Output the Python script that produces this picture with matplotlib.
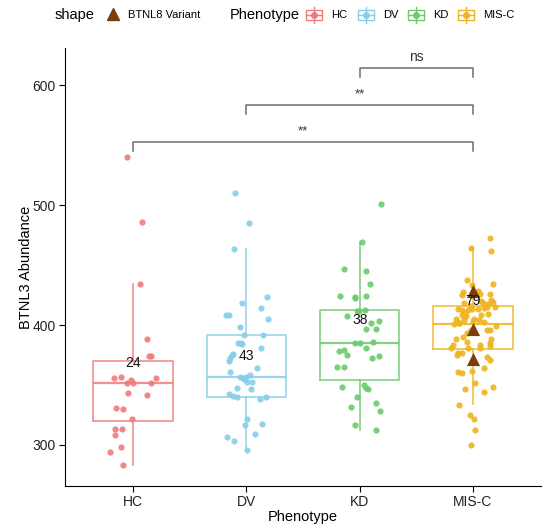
import matplotlib
matplotlib.use('Agg')
import matplotlib.pyplot as plt
from matplotlib.patches import Rectangle
from matplotlib.lines import Line2D

phenotypes = ['HC', 'DV', 'KD', 'MIS-C']
colors = ['#F07B7B', '#87CEEB', '#6CCB6C', '#EFB31F']

hc_vals = [540, 486, 434, 388, 374, 374.5, 356, 356.5, 354, 351.5, 355.5, 352,
           343, 341.5, 331, 330, 321.7, 313.3, 313, 308, 294, 298, 283, 352]
hc_jit = [-0.05, 0.08, 0.06, 0.12, 0.14, 0.16, -0.17, -0.11, -0.02, -0.05, 0.20, 0.16,
          -0.04, 0.12, -0.15, -0.09, -0.01, -0.16, -0.10, -0.16, -0.20, -0.11, -0.09, 0.0]

dv_vals = [510.5, 484.7, 463.3, 423.3, 418.3, 413.9, 408.6, 408.6, 404.7, 398.3,
           391.9, 391.7, 385, 385.3, 381.1, 375.6, 374.7, 372.8, 370.3, 364.2,
           361.1, 356.7, 355.6, 357, 352.5, 352.5, 347, 347.2, 342.2, 340.8,
           340.3, 338.1, 340, 321.4, 316.7, 317.5, 309.2, 306.9, 303.6, 295.6,
           358, 355, 384]
dv_jit = [-0.10, 0.02, -0.11, 0.18, -0.04, 0.13, -0.18, -0.15, 0.19, -0.06,
          -0.02, 0.15, -0.07, -0.05, 0.13, -0.12, -0.13, -0.14, -0.15, 0.09,
          -0.14, -0.06, -0.03, 0.0, 0.01, 0.05, 0.04, -0.08, -0.15, -0.12,
          -0.08, 0.12, 0.17, 0.01, -0.01, 0.14, 0.08, -0.17, -0.11, 0.01,
          0.03, -0.02, -0.04]

kd_vals = [500.6, 469.2, 446.9, 445.3, 434.2, 424.2, 423.1, 422.2, 424.2, 411.7,
           412.5, 407.8, 402, 403.1, 396.7, 396.4, 385, 385.8, 380.8, 378.3,
           379.2, 375, 374.4, 372.2, 365, 365, 348.3, 350.3, 346.4, 347.5,
           340.3, 334.7, 331.7, 328, 316.9, 312.5, 385, 412]
kd_jit = [0.19, 0.02, -0.14, 0.06, 0.09, -0.17, -0.04, -0.04, 0.06, -0.01,
          0.05, -0.11, 0.10, 0.17, 0.06, 0.14, -0.04, 0.12, 0.06, -0.18,
          -0.14, -0.11, 0.17, 0.11, -0.20, -0.14, -0.16, 0.04, 0.07, 0.06,
          -0.02, 0.14, -0.08, 0.18, -0.04, 0.14, 0.0, -0.02]

misc_vals = [472.8, 464.2, 461.9, 437.5, 433.9, 433.3, 427.2, 425, 428.3, 425.8,
             425.8, 420.8, 419.4, 418.6, 417.2, 415.3, 414.7, 418, 413, 412.5,
             412.5, 413, 413, 413.9, 408.3, 407.5, 408.3, 408.9, 404.2, 404.7,
             400.8, 401.4, 402.8, 404.2, 395.8, 395.8, 399.2, 393.6, 388.6, 388.3,
             384.7, 386.1, 383.1, 380.8, 383.3, 381.1, 382.5, 380.6, 376.4, 377,
             374.7, 373.1, 370.8, 364.2, 362, 360.6, 360.3, 351.4, 348.1, 344.2,
             346.9, 333.3, 325, 321.7, 312, 300,
             410, 402, 396, 416, 405, 390, 420, 403]
misc_jit = [0.15, -0.02, 0.16, -0.05, 0.18, -0.01, -0.09, -0.10, 0.04, 0.06,
            0.15, 0.16, 0.18, 0.09, 0.13, 0.12, 0.19, -0.08, -0.13, -0.10,
            -0.04, -0.01, 0.04, 0.10, -0.10, -0.06, 0.07, 0.13, -0.08, 0.01,
            -0.17, -0.12, 0.10, 0.05, 0.12, 0.15, 0.20, -0.05, -0.15, 0.16,
            0.15, -0.05, -0.18, -0.19, 0.06, 0.06, 0.15, -0.04, -0.13, -0.10,
            -0.14, 0.12, 0.15, 0.10, -0.01, -0.13, -0.10, 0.02, 0.18, 0.10,
            -0.07, -0.12, -0.03, 0.01, 0.02, -0.02,
            -0.07, -0.12, -0.02, -0.03, -0.15, -0.09, 0.07, 0.00]

variant_vals = [428.3, 396.7, 371.4]
variant_jit = [0.0, 0.0, 0.0]

# box stats
box_lo = [283, 295.6, 312.5, 333.9]
box_q1 = [319.5, 340.3, 353.9, 380.3]
box_med = [352, 356.7, 385, 400.8]
box_q3 = [370.3, 391.9, 412.2, 415.6]
box_hi = [434, 463.3, 469.2, 464.2]

n_labels = ['24', '43', '38', '79']
label_y = [368, 374, 404, 420]

comparisons = [(1, 4), (2, 4), (3, 4)]
bracket_y = [552.8, 583.3, 614.4]
sig_labels = ['**', '**', 'ns']

plt.rcParams['font.family'] = ['Liberation Sans', 'DejaVu Sans']

fig = plt.figure(figsize=(5.58, 5.29), dpi=100)
ax = fig.add_axes([0.1165, 0.082, 0.853, 0.827])

stats = []
for i in range(4):
    stats.append({'whislo': box_lo[i], 'q1': box_q1[i], 'med': box_med[i],
                  'q3': box_q3[i], 'whishi': box_hi[i], 'fliers': []})
for i, st in enumerate(stats):
    c = colors[i]
    ax.bxp([st], positions=[i + 1], widths=0.7, showfliers=False, showcaps=False,
           boxprops=dict(color=c, linewidth=1.2, alpha=0.85),
           medianprops=dict(color=c, linewidth=1.6, alpha=0.85),
           whiskerprops=dict(color=c, linewidth=1.2, alpha=0.85))

groups = [(hc_vals, hc_jit), (dv_vals, dv_jit), (kd_vals, kd_jit), (misc_vals, misc_jit)]
for i, (vals, jit) in enumerate(groups):
    xs = [i + 1 + j for j in jit]
    ax.scatter(xs, vals, s=20, color=colors[i], alpha=0.9, linewidths=0, zorder=3)

ax.scatter([4 + j for j in variant_jit], variant_vals, marker='^', s=90,
           color='#7B3F0A', linewidths=0, zorder=4)

for i in range(4):
    ax.text(i + 1, label_y[i], n_labels[i], ha='center', va='center', fontsize=10,
            color='#111111', zorder=5)

for (a, b), y, lab in zip(comparisons, bracket_y, sig_labels):
    ax.plot([a, a, b, b], [y - 7.5, y, y, y - 7.5], color='#6E6E6E', linewidth=1.1)
    if lab == 'ns':
        ax.text((a + b) / 2, y + 3, lab, ha='center', va='bottom', fontsize=10, color='#333333')
    else:
        ax.text((a + b) / 2, y + 4, lab, ha='center', va='bottom', fontsize=9.5, color='#333333')

ax.set_xlim(0.4, 4.6)
ax.set_ylim(266, 631)
ax.set_xticks([1, 2, 3, 4])
ax.set_xticklabels(phenotypes, fontsize=10, color='#222222')
ax.set_yticks([300, 400, 500, 600])
ax.set_yticklabels(['300', '400', '500', '600'], fontsize=10, color='#222222')
ax.tick_params(length=4, width=0.8, pad=2.5)
ax.set_xlabel('Phenotype', fontsize=10.5, labelpad=1)
ax.set_ylabel('BTNL3 Abundance', fontsize=10.5, labelpad=0)
for s in ['top', 'right']:
    ax.spines[s].set_visible(False)

# legend drawn in figure pixels
W, H = 558, 529
def fx(px):
    return px / W
def fy(py):
    return 1 - py / H

fig.text(fx(55), fy(15), 'shape', fontsize=10.5, va='center', ha='left')
fig.add_artist(Line2D([fx(113)], [fy(14)], marker='^', markersize=9, color='#7B3F0A',
                      linestyle='none', transform=fig.transFigure))
fig.text(fx(128), fy(15), 'BTNL8 Variant', fontsize=8, va='center', ha='left')
fig.text(fx(230), fy(15), 'Phenotype', fontsize=10.5, va='center', ha='left')

leg_x = [314, 366, 416, 466]
for i in range(4):
    cx = leg_x[i]
    c = colors[i]
    fig.add_artist(Line2D([fx(cx), fx(cx)], [fy(7), fy(23)], color=c, linewidth=1,
                          transform=fig.transFigure))
    fig.add_artist(Rectangle((fx(cx - 8), fy(20)), fx(16), 10 / H, fill=False,
                             edgecolor=c, linewidth=1, transform=fig.transFigure))
    fig.add_artist(Line2D([fx(cx - 8), fx(cx + 8)], [fy(15), fy(15)], color=c, linewidth=1,
                          transform=fig.transFigure))
    fig.add_artist(Line2D([fx(cx)], [fy(15)], marker='o', markersize=4, color=c,
                          linestyle='none', transform=fig.transFigure))
    fig.text(fx(cx + 17), fy(15), phenotypes[i], fontsize=8, va='center', ha='left')

fig.savefig('out.png', dpi=100)
